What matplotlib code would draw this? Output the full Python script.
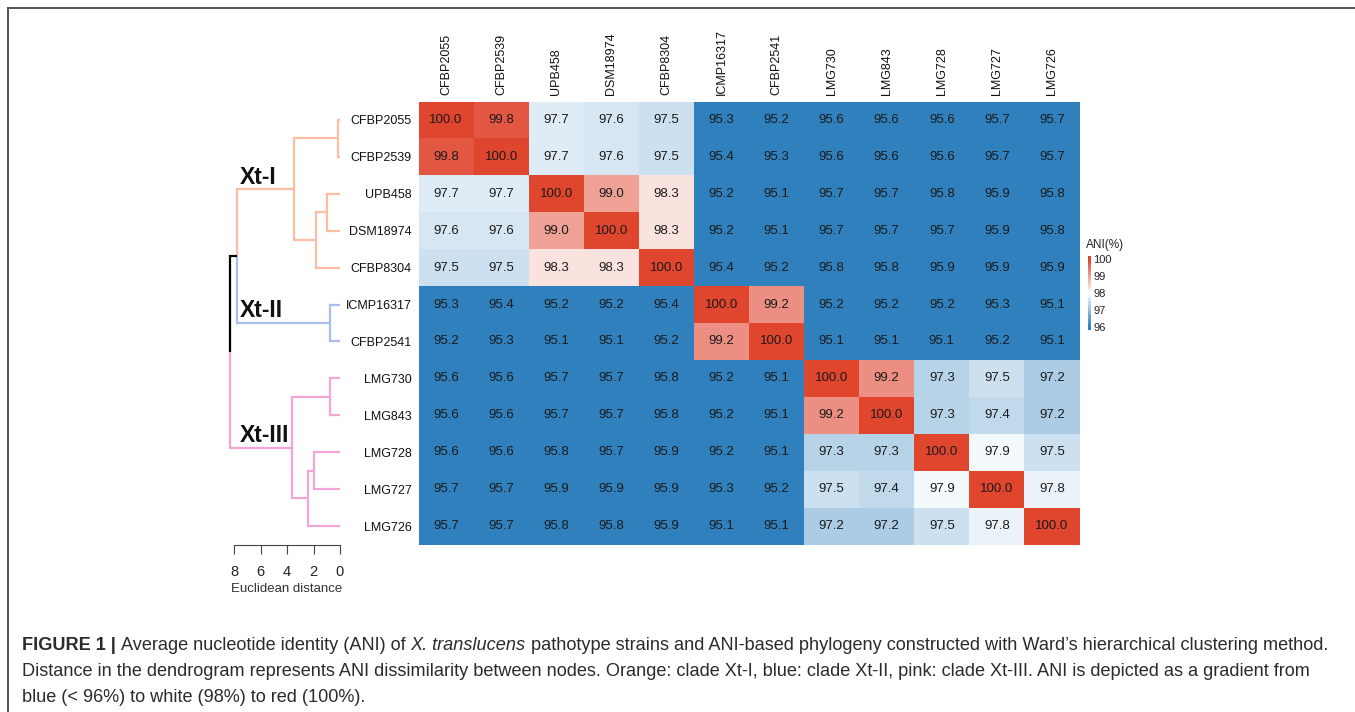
import numpy as np
import matplotlib
matplotlib.use("Agg")
import matplotlib.pyplot as plt
from matplotlib.colors import LinearSegmentedColormap
from matplotlib.lines import Line2D

plt.rcParams['font.family'] = ['Liberation Sans', 'DejaVu Sans']

strains = ['CFBP2055', 'CFBP2539', 'UPB458', 'DSM18974', 'CFBP8304', 'ICMP16317',
           'CFBP2541', 'LMG730', 'LMG843', 'LMG728', 'LMG727', 'LMG726']

ani = [
    [100.0, 99.8, 97.7, 97.6, 97.5, 95.3, 95.2, 95.6, 95.6, 95.6, 95.7, 95.7],
    [99.8, 100.0, 97.7, 97.6, 97.5, 95.4, 95.3, 95.6, 95.6, 95.6, 95.7, 95.7],
    [97.7, 97.7, 100.0, 99.0, 98.3, 95.2, 95.1, 95.7, 95.7, 95.8, 95.9, 95.8],
    [97.6, 97.6, 99.0, 100.0, 98.3, 95.2, 95.1, 95.7, 95.7, 95.7, 95.9, 95.8],
    [97.5, 97.5, 98.3, 98.3, 100.0, 95.4, 95.2, 95.8, 95.8, 95.9, 95.9, 95.9],
    [95.3, 95.4, 95.2, 95.2, 95.4, 100.0, 99.2, 95.2, 95.2, 95.2, 95.3, 95.1],
    [95.2, 95.3, 95.1, 95.1, 95.2, 99.2, 100.0, 95.1, 95.1, 95.1, 95.2, 95.1],
    [95.6, 95.6, 95.7, 95.7, 95.8, 95.2, 95.1, 100.0, 99.2, 97.3, 97.5, 97.2],
    [95.6, 95.6, 95.7, 95.7, 95.8, 95.2, 95.1, 99.2, 100.0, 97.3, 97.4, 97.2],
    [95.6, 95.6, 95.8, 95.7, 95.9, 95.2, 95.1, 97.3, 97.3, 100.0, 97.9, 97.5],
    [95.7, 95.7, 95.9, 95.9, 95.9, 95.3, 95.2, 97.5, 97.4, 97.9, 100.0, 97.8],
    [95.7, 95.7, 95.8, 95.8, 95.9, 95.1, 95.1, 97.2, 97.2, 97.5, 97.8, 100.0],
]

# merges (child a, child b, height); leaves are 0..11, new nodes start at 12
merges = [
    (0, 1, 0.17),
    (2, 3, 1.0),
    (13, 4, 1.8),
    (12, 14, 3.5),
    (5, 6, 0.75),
    (15, 16, 7.77),
    (7, 8, 0.75),
    (9, 10, 2.0),
    (19, 11, 2.45),
    (18, 20, 3.6),
    (17, 21, 8.3),
]

clade_of_leaf = ['Xt-I'] * 5 + ['Xt-II'] * 2 + ['Xt-III'] * 5
clade_colors = {'Xt-I': '#FDBDA3', 'Xt-II': '#A9BFEF', 'Xt-III': '#F3A5D8'}
clade_nodes = {'Xt-I': 15, 'Xt-II': 16, 'Xt-III': 21}
dist_ticks = [8, 6, 4, 2, 0]
cbar_ticks = [96, 97, 98, 99, 100]

W, H = 1355, 712
fig = plt.figure(figsize=(W / 100, H / 100), dpi=100)


def px_box(x0, y0, x1, y1):
    return [x0 / W, 1 - y1 / H, (x1 - x0) / W, (y1 - y0) / H]


cmap = LinearSegmentedColormap.from_list('ani', [(0.0, '#3080BD'), (0.5, '#FFFFFF'), (1.0, '#E0452E')])
vmin, vmax = 96, 100

# heatmap
hm_top, hm_bot = 101.5, 544.5
ax = fig.add_axes(px_box(418.5, hm_top, 1079.5, hm_bot))
data = np.array(ani)
n = len(strains)
ax.pcolormesh(np.arange(n + 1), np.arange(n + 1), data, cmap=cmap, vmin=vmin, vmax=vmax)
ax.set_xlim(0, n)
ax.set_ylim(n, 0)
for i in range(n):
    for j in range(n):
        ax.text(j + 0.5, i + 0.5, f'{data[i, j]:.1f}', ha='center', va='center',
                fontsize=9.5, color='#1a1a1a')
ax.set_xticks(np.arange(n) + 0.5)
ax.set_xticklabels(strains, rotation=90, fontsize=9)
ax.xaxis.tick_top()
ax.set_yticks(np.arange(n) + 0.5)
ax.set_yticklabels(strains, fontsize=9)
ax.tick_params(length=0, pad=5, colors='#111111')
for s in ax.spines.values():
    s.set_visible(False)

# dendrogram
scale = 13.25
dx = fig.add_axes(px_box(220, hm_top, 345, hm_bot))
dx.set_xlim((340 - 220) / scale, -(345 - 340) / scale)
dx.set_ylim(n, 0)

ypos = {i: i + 0.5 for i in range(n)}
hgt = {i: 0.0 for i in range(n)}
leaves = {i: {i} for i in range(n)}
for k, (a, b, h) in enumerate(merges):
    node = n + k
    ypos[node] = (ypos[a] + ypos[b]) / 2
    hgt[node] = h
    leaves[node] = leaves[a] | leaves[b]


def node_color(node):
    cl = {clade_of_leaf[i] for i in leaves[node]}
    return clade_colors[cl.pop()] if len(cl) == 1 else 'black'


for k, (a, b, h) in enumerate(merges):
    node = n + k
    for c in (a, b):
        col = node_color(c)
        dx.plot([h, h, hgt[c]], [ypos[node], ypos[c], ypos[c]], color=col, lw=1.6,
                solid_capstyle='butt', solid_joinstyle='miter')

for name, node in clade_nodes.items():
    dx.annotate(name, (7.55, ypos[node]), xytext=(0, 4), textcoords='offset points',
                ha='left', va='baseline', fontsize=16.5, fontweight='bold', color='#111111')

for s in ['top', 'right', 'left']:
    dx.spines[s].set_visible(False)
dx.spines['bottom'].set_bounds(0, 8)
dx.spines['bottom'].set_color('#444444')
dx.spines['bottom'].set_linewidth(0.8)
dx.set_yticks([])
dx.set_xticks(dist_ticks)
dx.set_xticklabels([str(t) for t in dist_ticks], fontsize=10.5)
dx.tick_params(axis='x', direction='out', length=6.5, width=0.8, color='#444444', pad=8, labelcolor='#222222')
dx.patch.set_alpha(0)
fig.text(287 / W, 1 - 589 / H, 'Euclidean distance', ha='center', va='center', fontsize=9.5, color='#333333')

# colour key
cx = fig.add_axes(px_box(1088, 256, 1091, 330))
lo, hi = 95.82, 100.18
grad = np.linspace(lo, hi, 200).reshape(-1, 1)
cx.imshow(grad, aspect='auto', cmap=cmap, vmin=vmin, vmax=vmax, origin='lower', extent=[0, 1, lo, hi])
cx.set_ylim(lo, hi)
cx.set_xticks([])
cx.yaxis.tick_right()
cx.set_yticks(cbar_ticks)
cx.set_yticklabels([str(t) for t in cbar_ticks], fontsize=8)
cx.tick_params(axis='y', length=0, pad=1.5, labelcolor='#222222')
for s in cx.spines.values():
    s.set_visible(False)
fig.text(1086 / W, 1 - 245 / H, 'ANI(%)', ha='left', va='center', fontsize=8.5, color='#222222')

# panel frame
fig.add_artist(Line2D([8 / W, 1], [1 - 8 / H, 1 - 8 / H], transform=fig.transFigure, color='#555555', lw=1.4))
fig.add_artist(Line2D([8 / W, 8 / W], [0, 1 - 8 / H], transform=fig.transFigure, color='#555555', lw=1.4))

# caption
caption = [
    [('FIGURE 1 | ', 'bold', 'normal'), ('Average nucleotide identity (ANI) of ', 'normal', 'normal'),
     ('X. translucens', 'normal', 'italic'),
     (' pathotype strains and ANI-based phylogeny constructed with Ward\u2019s hierarchical clustering method.', 'normal', 'normal')],
    [('Distance in the dendrogram represents ANI dissimilarity between nodes. Orange: clade Xt-I, blue: clade Xt-II, '
      'pink: clade Xt-III. ANI is depicted as a gradient from', 'normal', 'normal')],
    [('blue (< 96%) to white (98%) to red (100%).', 'normal', 'normal')],
]
renderer = fig.canvas.get_renderer()
for li, parts in enumerate(caption):
    x = 22 / W
    y = 1 - (645 + 26 * li) / H
    for txt, wt, st in parts:
        t = fig.text(x, y, txt, fontsize=13.1, fontweight=wt, fontstyle=st, ha='left', va='center', color='#2b2b2b')
        x += t.get_window_extent(renderer).width / W

fig.savefig('out.png', dpi=100)
